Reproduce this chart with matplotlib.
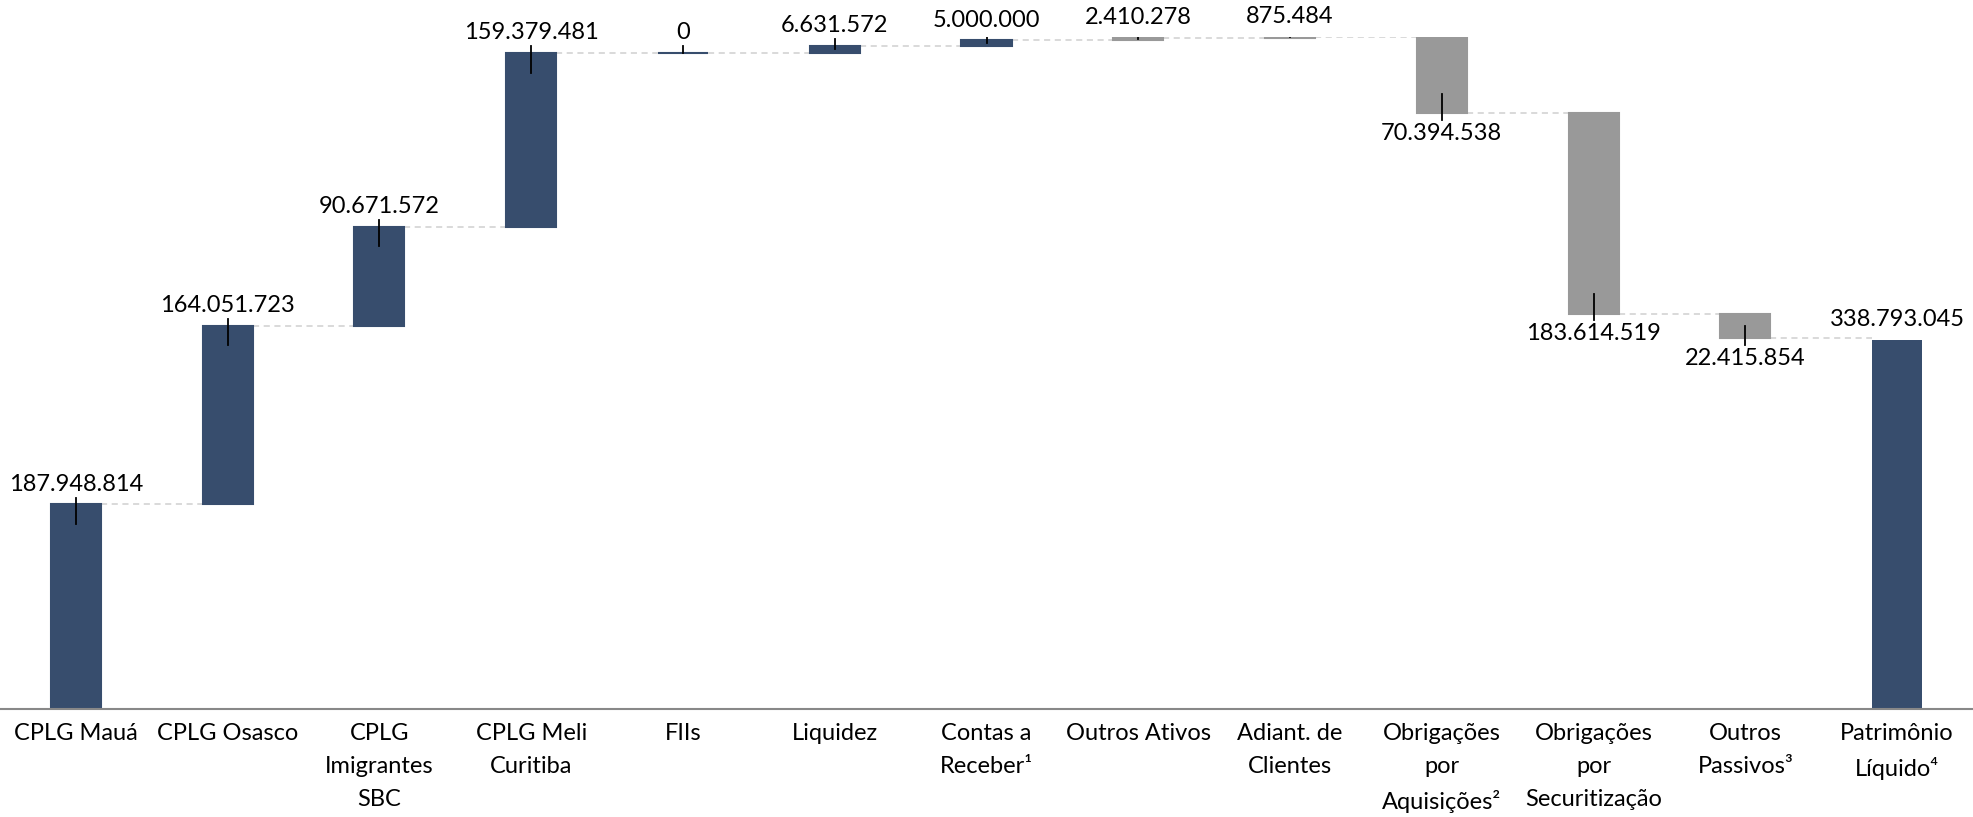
import numpy as np
import matplotlib.pyplot as plt

plt.rcParams['font.family'] = ['Lato', 'DejaVu Sans']

categorias = ['CPLG Mauá', 'CPLG Osasco', 'CPLG\nImigrantes\nSBC', 'CPLG Meli\nCuritiba', 'FIIs',
              'Liquidez', 'Contas a\nReceber¹', 'Outros Ativos', 'Adiant. de\nClientes',
              'Obrigações\npor\nAquisições²', 'Obrigações\npor\nSecuritização', 'Outros\nPassivos³',
              'Patrimônio\nLíquido⁴']
valores = [187948814, 164051723, 90671572, 159379481, 0, 6631572, 5000000, 2410278, 875484,
           -70394538, -183614519, -22415854]
total = 338793045
cores = ['#374d6d'] * 7 + ['#999999'] * 5 + ['#374d6d']

def fmt(v):
    return f'{abs(v):,.0f}'.replace(',', '.')

fig = plt.figure(figsize=(19.73, 8.17), dpi=100)
ax = fig.add_axes([0.0, 0.132, 1.0, 0.823])

largura = 0.33
acum = 0
niveis = []
for i, v in enumerate(valores):
    base = acum if v >= 0 else acum + v
    ax.bar(i, abs(v), bottom=base, width=largura, color=cores[i],
           edgecolor=cores[i], linewidth=1.5)
    acum += v
    niveis.append(acum)
    dentro = min(18e6, abs(v) / 2)
    if v >= 0:
        topo = acum
        ax.plot([i, i], [topo - dentro, topo + 6e6], color='black', lw=1.3)
        ax.text(i, topo + 9e6, fmt(v), ha='center', va='bottom', fontsize=17, clip_on=False)
    else:
        fundo = acum
        ax.plot([i, i], [fundo + dentro, fundo - 6e6], color='black', lw=1.3)
        ax.text(i, fundo - 9e6, fmt(v), ha='center', va='top', fontsize=17)

n = len(valores)
ax.bar(n, total, width=largura, color=cores[n])
ax.text(n, total + 9e6, fmt(total), ha='center', va='bottom', fontsize=17)

# linhas de ligacao
for i, nivel in enumerate(niveis):
    ax.plot([i + largura / 2, i + 1 - largura / 2], [nivel, nivel], color='#d0d0d0',
            lw=1.1, ls=(0, (4, 3)), zorder=0)

ax.set_xlim(-0.5, n + 0.5)
ax.set_ylim(0, max(np.cumsum(valores)))
ax.set_xticks(range(n + 1))
ax.set_xticklabels(categorias, fontsize=17)
for t in ax.get_xticklabels():
    t.set_linespacing(1.7)
ax.tick_params(axis='x', length=0, pad=10)
ax.set_yticks([])
for s in ['left', 'right', 'top']:
    ax.spines[s].set_visible(False)
ax.spines['bottom'].set_color('#888888')
ax.spines['bottom'].set_linewidth(1.5)

plt.savefig('out.png')
